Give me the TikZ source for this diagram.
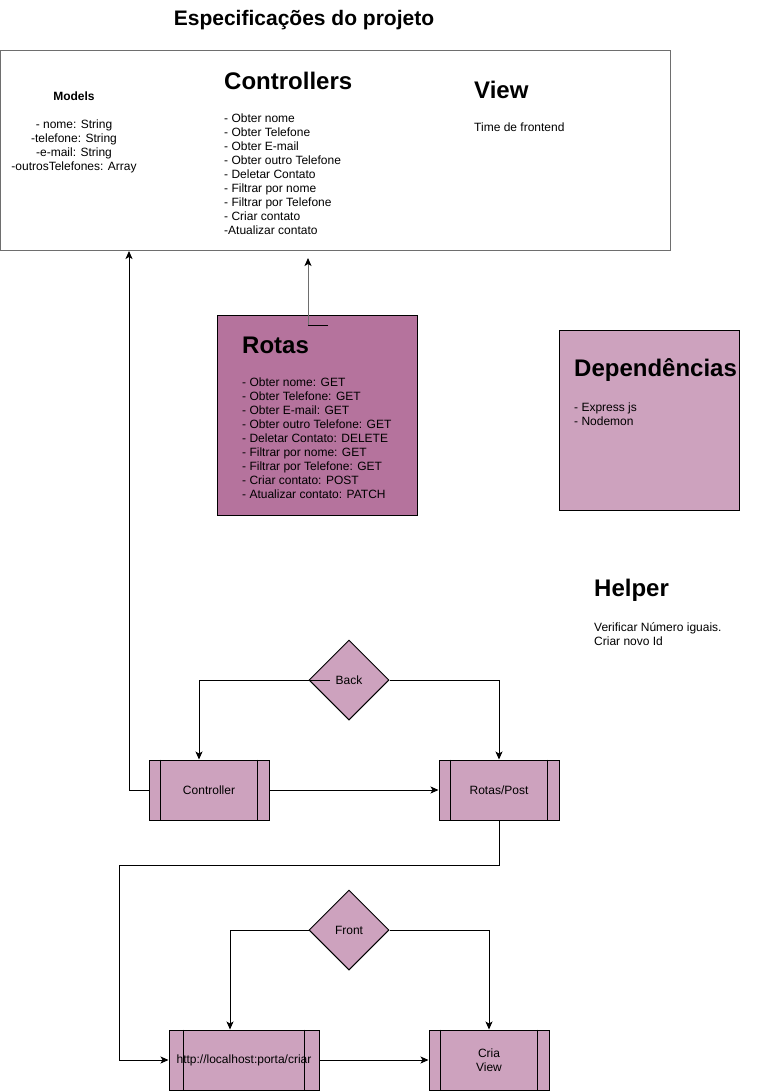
\documentclass[tikz,border=0pt]{standalone}
\usepackage{fontspec}
\setmainfont{Liberation Sans}
\usetikzlibrary{shapes.geometric,arrows.meta}
\definecolor{rotasfill}{HTML}{B5739D}
\definecolor{pinkfill}{HTML}{CDA2BE}
\definecolor{boxline}{HTML}{6E6E6E}
\tikzset{
  txt/.style={inner sep=0pt, font=\fontsize{12}{14}\selectfont, align=left},
  ctxt/.style={inner sep=0pt, font=\fontsize{12}{14}\selectfont, align=center},
  heading/.style={inner sep=0pt, font=\fontsize{24}{28}\selectfont\bfseries, anchor=west},
  card/.style={draw=black, line width=1pt, inner sep=0pt, anchor=north west},
  procbox/.style={draw=black, fill=pinkfill, line width=1pt, inner sep=0pt,
    minimum height=60, font=\fontsize{12}{14}\selectfont, align=center},
  decision/.style={diamond, aspect=1, draw=black, fill=pinkfill, line width=1pt,
    inner sep=0pt, minimum width=80, minimum height=80, font=\fontsize{12}{14}\selectfont},
  arr/.style={draw=black, line width=1pt, -{Stealth[length=8pt,width=7pt,inset=2pt,color=black]}},
  link/.style={draw=black, line width=1pt},
}
\begin{document}
\begin{tikzpicture}[x=1pt,y=-1pt]
\useasboundingbox (0,0) rectangle (780,1091);

% title
\node[inner sep=0pt, font=\fontsize{21}{24}\selectfont\bfseries] (title) at (304,20) {Especificações do projeto};

% top box
\node[card, draw=boxline, minimum width=670, minimum height=200] (big) at (0,50) {};
\node[inner sep=0pt, font=\fontsize{12}{14}\selectfont\bfseries] (modelsh) at (74,96) {Models};
\node[ctxt, anchor=north] (models) at (74,119.5) {- nome: String\\-telefone: String\\-e-mail: String\\-outrosTelefones: Array};
\node[heading] (ctrlh) at (224,81) {Controllers};
\node[txt, anchor=north west] (ctrllist) at (224,113.3) {- Obter nome\\- Obter Telefone\\- Obter E-mail\\- Obter outro Telefone\\- Deletar Contato\\- Filtrar por nome\\- Filtrar por Telefone\\- Criar contato\\-Atualizar contato};
\node[heading] (viewh) at (474,90) {View};
\node[txt, anchor=west] (viewt) at (474,127) {Time de frontend};

% Rotas
\node[card, fill=rotasfill, minimum width=200, minimum height=200] (rotas) at (217,315) {};
\node[heading] (rotash) at (242,345) {Rotas};
\node[txt, anchor=north west] (rotaslist) at (242,377.3) {- Obter nome: GET\\- Obter Telefone: GET\\- Obter E-mail: GET\\- Obter outro Telefone: GET\\- Deletar Contato: DELETE\\- Filtrar por nome: GET\\- Filtrar por Telefone: GET\\- Criar contato: POST\\- Atualizar contato: PATCH};

% Dependencias
\node[card, fill=pinkfill, minimum width=180, minimum height=180] (dep) at (559,330) {};
\node[heading] (deph) at (574,370) {Dependências};
\node[txt, anchor=north west] (deplist) at (574,402.3) {- Express js\\- Nodemon};

% Helper
\node[heading] (helperh) at (594,590) {Helper};
\node[txt, anchor=north west] (helperlist) at (594,622.3) {Verificar Número iguais.\\Criar novo Id};

% Back flow
\node[decision] (back) at (349,680) {Back};
\node[procbox, minimum width=120] (ctrl) at (209,790) {Controller};
\node[procbox, minimum width=120] (post) at (499,790) {Rotas/Post};
\draw[link] ([xshift=12]ctrl.north west) -- ([xshift=12]ctrl.south west);
\draw[link] ([xshift=-12]ctrl.north east) -- ([xshift=-12]ctrl.south east);
\draw[link] ([xshift=12]post.north west) -- ([xshift=12]post.south west);
\draw[link] ([xshift=-12]post.north east) -- ([xshift=-12]post.south east);

% Front flow
\node[decision] (front) at (349,930) {Front};
\node[procbox, minimum width=150] (http) at (244,1060) {};
\node[procbox, minimum width=120] (cria) at (489,1060) {};
\draw[link] ([xshift=15]http.north west) -- ([xshift=15]http.south west);
\draw[link] ([xshift=-15]http.north east) -- ([xshift=-15]http.south east);
\draw[link] ([xshift=12]cria.north west) -- ([xshift=12]cria.south west);
\draw[link] ([xshift=-12]cria.north east) -- ([xshift=-12]cria.south east);
\node[ctxt] (httpt) at (http.center) {http://localhost:porta/criar};
\node[ctxt] (criat) at (cria.center) {Cria\\View};

% connectors
\coordinate (rstart) at (328,325);
\coordinate (ctop) at (308,258);
\draw[link] (rstart) -- (rstart -| ctop);
\draw[arr, draw=boxline] (rstart -| ctop) -- (ctop);

\draw[arr] ([xshift=21]back.west) -| ([xshift=-10]ctrl.north);
\draw[arr] (back.east) -| (post.north);
\draw[arr] (ctrl.east) -- (post.west);

\coordinate (mx) at (129,790);
\draw[arr] (ctrl.west) -- (mx) -- (mx |- big.south);

\coordinate (k1) at (499,865);
\coordinate (k2) at (119,865);
\draw[arr] (post.south) -- (k1) -- (k2) |- (http.west);

\draw[arr] (front.west) -| ([xshift=-14]http.north);
\draw[arr] (front.east) -| (cria.north);
\draw[arr] (http.east) -- (cria.west);
\end{tikzpicture}
\end{document}
